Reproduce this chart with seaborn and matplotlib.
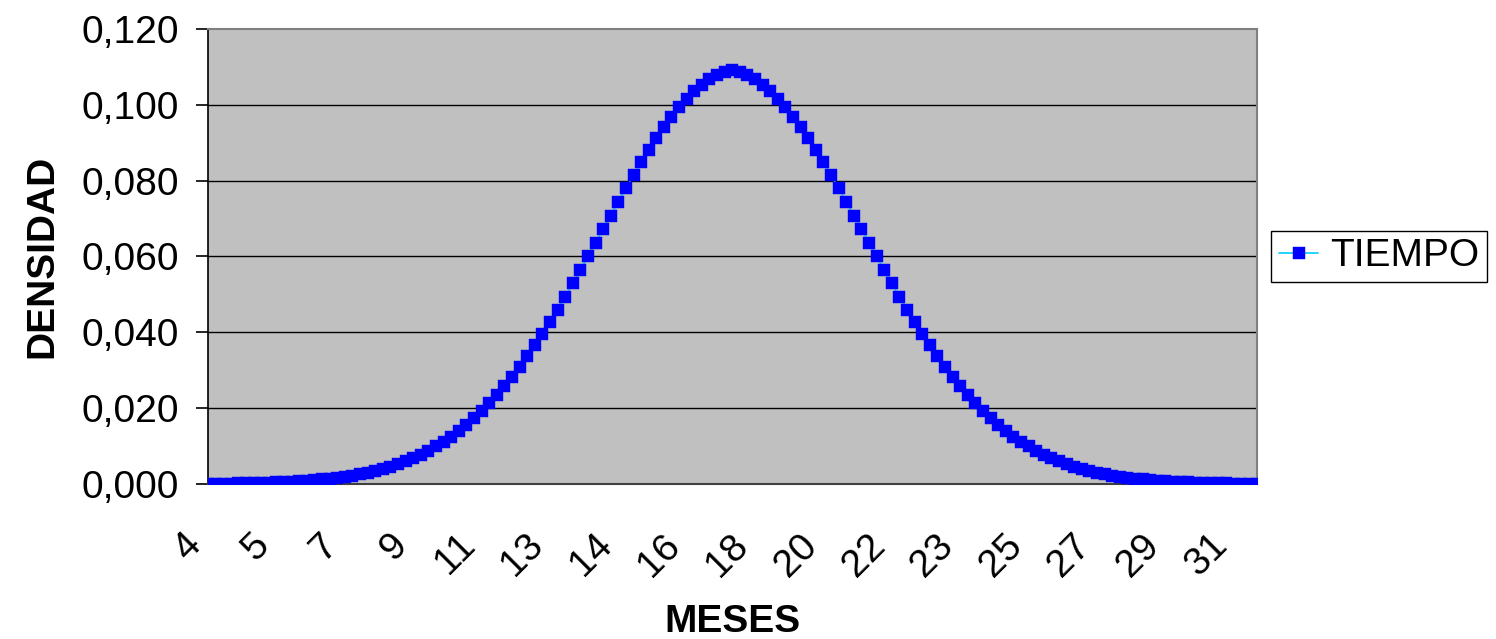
import numpy as np
import matplotlib
matplotlib.use('Agg')
import matplotlib.pyplot as plt
import matplotlib.transforms as mtransforms
import pandas as pd
import seaborn as sns

# Meses (eje de categorias) y densidad
meses = [3.6, 3.8, 4.0, 4.2, 4.4, 4.6, 4.8, 5.0, 5.2, 5.4,
         5.6, 5.8, 6.0, 6.2, 6.4, 6.6, 6.8, 7.0, 7.2, 7.4,
         7.6, 7.8, 8.0, 8.2, 8.4, 8.6, 8.8, 9.0, 9.2, 9.4,
         9.6, 9.8, 10.0, 10.2, 10.4, 10.6, 10.8, 11.0, 11.2, 11.4,
         11.6, 11.8, 12.0, 12.2, 12.4, 12.6, 12.8, 13.0, 13.2, 13.4,
         13.6, 13.8, 14.0, 14.2, 14.4, 14.6, 14.8, 15.0, 15.2, 15.4,
         15.6, 15.8, 16.0, 16.2, 16.4, 16.6, 16.8, 17.0, 17.2, 17.4,
         17.6, 17.8, 18.0, 18.2, 18.4, 18.6, 18.8, 19.0, 19.2, 19.4,
         19.6, 19.8, 20.0, 20.2, 20.4, 20.6, 20.8, 21.0, 21.2, 21.4,
         21.6, 21.8, 22.0, 22.2, 22.4, 22.6, 22.8, 23.0, 23.2, 23.4,
         23.6, 23.8, 24.0, 24.2, 24.4, 24.6, 24.8, 25.0, 25.2, 25.4,
         25.6, 25.8, 26.0, 26.2, 26.4, 26.6, 26.8, 27.0, 27.2, 27.4,
         27.6, 27.8, 28.0, 28.2, 28.4, 28.6, 28.8, 29.0, 29.2, 29.4,
         29.6, 29.8, 30.0, 30.2, 30.4, 30.6, 30.8, 31.0, 31.2]

densidad = [0.0001, 0.0001, 0.0001, 0.0001, 0.0002, 0.0002, 0.0002, 0.0003, 0.0003, 0.0004,
            0.0005, 0.0006, 0.0007, 0.0008, 0.0010, 0.0012, 0.0014, 0.0016, 0.0019, 0.0022,
            0.0026, 0.0030, 0.0034, 0.0040, 0.0046, 0.0052, 0.0060, 0.0068, 0.0077, 0.0088,
            0.0099, 0.0111, 0.0125, 0.0140, 0.0156, 0.0174, 0.0193, 0.0213, 0.0235, 0.0258,
            0.0283, 0.0309, 0.0337, 0.0366, 0.0396, 0.0428, 0.0460, 0.0494, 0.0529, 0.0564,
            0.0600, 0.0636, 0.0672, 0.0708, 0.0744, 0.0780, 0.0814, 0.0848, 0.0881, 0.0912,
            0.0941, 0.0968, 0.0993, 0.1016, 0.1036, 0.1053, 0.1067, 0.1078, 0.1087, 0.1093,
            0.1087, 0.1078, 0.1067, 0.1053, 0.1036, 0.1016, 0.0993, 0.0968, 0.0941, 0.0912,
            0.0881, 0.0848, 0.0814, 0.0780, 0.0744, 0.0708, 0.0672, 0.0636, 0.0600, 0.0564,
            0.0529, 0.0494, 0.0460, 0.0428, 0.0396, 0.0366, 0.0337, 0.0309, 0.0283, 0.0258,
            0.0235, 0.0213, 0.0193, 0.0174, 0.0156, 0.0140, 0.0125, 0.0111, 0.0099, 0.0088,
            0.0077, 0.0068, 0.0060, 0.0052, 0.0046, 0.0040, 0.0034, 0.0030, 0.0026, 0.0022,
            0.0019, 0.0016, 0.0014, 0.0012, 0.0010, 0.0008, 0.0007, 0.0006, 0.0005, 0.0004,
            0.0003, 0.0003, 0.0002, 0.0002, 0.0002, 0.0001, 0.0001, 0.0001, 0.0001]

# Etiquetas del eje x (una cada 9 categorias)
x_ticks = [3.6, 5.4, 7.2, 9.0, 10.8, 12.6, 14.4, 16.2, 18.0, 19.8,
           21.6, 23.4, 25.2, 27.0, 28.8, 30.6]
x_labels = ['4', '5', '7', '9', '11', '13', '14', '16', '18', '20',
            '22', '23', '25', '27', '29', '31']
y_ticks = [0.0, 0.02, 0.04, 0.06, 0.08, 0.10, 0.12]
y_labels = ['0,000', '0,020', '0,040', '0,060', '0,080', '0,100', '0,120']

df = pd.DataFrame({'MESES': meses, 'DENSIDAD': densidad})

sns.set_style('white')
plt.rcParams['font.family'] = ['Liberation Sans', 'DejaVu Sans']
plt.rcParams['text.color'] = 'black'
plt.rcParams['xtick.color'] = 'black'
plt.rcParams['ytick.color'] = 'black'
plt.rcParams['axes.labelcolor'] = 'black'

fig = plt.figure(figsize=(14.96, 6.39), dpi=100)
ax = fig.add_axes([0.139, 0.2426, 0.701, 0.712])
ax.set_facecolor('#C0C0C0')

sns.lineplot(data=df, x='MESES', y='DENSIDAD', ax=ax, color='#00CCFF',
             linewidth=1.2, marker='s', markersize=8.5,
             markerfacecolor='#0000FF', markeredgecolor='#0000FF',
             markeredgewidth=0.3, label='TIEMPO', zorder=3)

ax.set_xlim(meses[0], meses[-1])
ax.set_ylim(0, 0.12)
ax.set_yticks(y_ticks)
ax.set_yticklabels(y_labels, fontsize=28)
ax.set_xticks(x_ticks)
ax.set_xticklabels(x_labels, fontsize=28, rotation=45, ha='right',
                   rotation_mode='anchor')
ax.tick_params(axis='x', length=0, pad=31)
ax.tick_params(axis='y', length=9, width=1.2, pad=12,
               direction='out', left=True)
shift = mtransforms.ScaledTranslation(-0.25, 0, fig.dpi_scale_trans)
for lab in ax.get_xticklabels():
    lab.set_transform(lab.get_transform() + shift)

for y in y_ticks[1:-1]:
    ax.axhline(y, color='black', linewidth=1.0, zorder=1)

for side in ['top', 'right']:
    ax.spines[side].set_color('#808080')
    ax.spines[side].set_linewidth(1.5)
ax.spines['left'].set_color('black')
ax.spines['left'].set_linewidth(1.2)
ax.spines['bottom'].set_color('#404040')
ax.spines['bottom'].set_linewidth(1.5)

ax.set_xlabel('MESES', fontsize=28, fontweight='bold', labelpad=15)
ax.set_ylabel('DENSIDAD', fontsize=28, fontweight='bold', labelpad=15)

leg = ax.legend(loc='center left', bbox_to_anchor=(1.014, 0.5),
                borderaxespad=0, fontsize=28, frameon=True, fancybox=False,
                handlelength=1.0, handletextpad=0.3, borderpad=0.2,
                edgecolor='black', facecolor='white', framealpha=1)
leg.get_frame().set_linewidth(1.0)

fig.savefig('out.png', dpi=100)
